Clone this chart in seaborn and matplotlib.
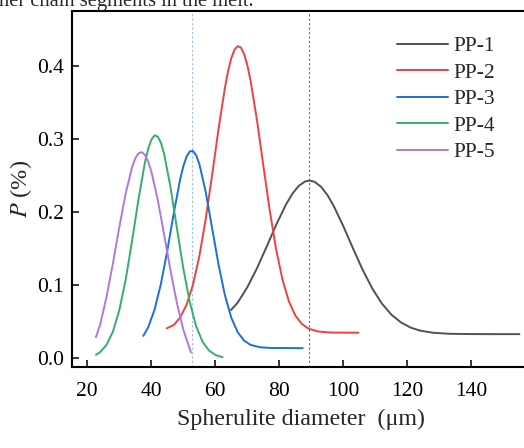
import numpy as np
import pandas as pd
import seaborn as sns
import matplotlib
matplotlib.use("Agg")
import matplotlib.pyplot as plt

# values (x in um, P in %)
pp1_x = [64.9, 67, 70, 73, 76, 79, 82, 84, 86, 88, 89.4, 91, 93, 95, 97, 100, 103, 106, 109,
         112, 115, 118, 121, 124, 128, 133, 140, 148, 155]
pp1_y = [0.066, 0.0762, 0.0972, 0.1230, 0.1523, 0.1824, 0.2097, 0.2246, 0.2355, 0.2417, 0.243,
         0.2413, 0.2346, 0.2233, 0.2081, 0.1804, 0.1503, 0.1212, 0.0956, 0.0750, 0.0596, 0.0490,
         0.0420, 0.0378, 0.0349, 0.0335, 0.0331, 0.0330, 0.0330]

pp2_x = [44.8, 47, 49, 51, 53, 55, 57, 59, 61, 63, 64, 65, 66, 67, 68, 69, 70, 71, 73, 75, 77,
         79, 81, 83, 85, 87, 89, 92, 96, 100, 104.7]
pp2_y = [0.041, 0.0454, 0.0557, 0.0730, 0.1003, 0.1394, 0.1905, 0.2506, 0.3136, 0.3701, 0.3929,
         0.4105, 0.4220, 0.4268, 0.4248, 0.4159, 0.4006, 0.3798, 0.3257, 0.2633, 0.2020, 0.1487,
         0.1071, 0.0776, 0.0584, 0.0470, 0.0407, 0.0367, 0.0352, 0.0350, 0.0350]

pp3_x = [37.5, 39, 41, 43, 45, 47, 49, 50, 51, 52, 53, 54, 55, 57, 59, 61, 63, 65, 67, 69, 71,
         74, 78, 83, 87.3]
pp3_y = [0.0307, 0.0422, 0.0662, 0.1017, 0.1474, 0.1981, 0.2445, 0.2626, 0.2757, 0.2828, 0.2835,
         0.2776, 0.2657, 0.2272, 0.1778, 0.1281, 0.0861, 0.0553, 0.0355, 0.0241, 0.0183, 0.0150,
         0.0140, 0.0140, 0.0138]

pp4_x = [22.7, 24, 26, 28, 30, 32, 34, 36, 38, 39, 40, 41, 42, 43, 44, 46, 48, 50, 52, 54, 56,
         58, 60, 62.3]
pp4_y = [0.0048, 0.0084, 0.0183, 0.0364, 0.0657, 0.1078, 0.1607, 0.2176, 0.2676, 0.2862, 0.2989,
         0.3047, 0.3032, 0.2946, 0.2794, 0.2339, 0.1778, 0.1228, 0.0770, 0.0439, 0.0227, 0.0107,
         0.0046, 0.0015]

pp5_x = [22.7, 24, 26, 28, 30, 32, 34, 35, 36, 37, 38, 39, 40, 42, 44, 46, 48, 50, 52.4]
pp5_y = [0.029, 0.0456, 0.0837, 0.1296, 0.1791, 0.2256, 0.2615, 0.2734, 0.2803, 0.2819, 0.2781,
         0.2692, 0.2555, 0.2169, 0.1692, 0.1200, 0.0753, 0.0390, 0.0079]

labels = ["PP-1", "PP-2", "PP-3", "PP-4", "PP-5"]
colors = ["#515151", "#F14040", "#1A6FDF", "#37AD6B", "#B177DE"]
peak_lines = [52.6, 89.4]

frames = []
for lab, xs, ys in zip(labels, [pp1_x, pp2_x, pp3_x, pp4_x, pp5_x],
                       [pp1_y, pp2_y, pp3_y, pp4_y, pp5_y]):
    frames.append(pd.DataFrame({"d": xs, "P": ys, "sample": lab}))
df = pd.concat(frames, ignore_index=True)

sns.set_style("ticks")
plt.rcParams["font.family"] = ["Liberation Serif", "DejaVu Serif"]
plt.rcParams["mathtext.fontset"] = "stix"

fig = plt.figure(figsize=(5.24, 4.48), dpi=100)
ax = fig.add_axes([72 / 524, 81.3 / 448, (530 - 72) / 524, (437 - 81.3) / 448])

ax.axvline(peak_lines[0], color="#9DBFEF", ls=(0, (2, 2)), lw=0.8, zorder=1)
ax.axvline(peak_lines[1], color="#707070", ls=(0, (2, 2)), lw=0.8, zorder=1)

sns.lineplot(data=df, x="d", y="P", hue="sample", palette=dict(zip(labels, colors)),
             estimator=None, sort=True, lw=1.4, ax=ax,
             solid_joinstyle="round", solid_capstyle="round")

ax.set_xlim(15.22, 158.3)
ax.set_ylim(-0.0115, 0.4748)
ax.set_xticks([20, 40, 60, 80, 100, 120, 140])
ax.set_yticks([0.0, 0.1, 0.2, 0.3, 0.4])
ax.set_yticklabels(["0.0", "0.1", "0.2", "0.3", "0.4"])
ax.tick_params(direction="in", length=5, width=1.1, labelsize=15.5, colors="black")
ax.tick_params(axis="x", pad=11)
ax.tick_params(axis="y", pad=6)
for s in ["left", "bottom", "top"]:
    ax.spines[s].set_linewidth(1.5)
    ax.spines[s].set_color("black")
ax.spines["right"].set_visible(False)

ax.set_xlabel("Spherulite diameter  (\u03bcm)", fontsize=17.3, labelpad=6)
ax.set_ylabel("$P$ (%)", fontsize=17.5, labelpad=2)

handles, _ = ax.get_legend_handles_labels()
ax.legend(handles, labels, loc="upper left", bbox_to_anchor=(397 / 524, 1 - 36 / 448),
          bbox_transform=fig.transFigure, frameon=False, fontsize=15.5,
          handlelength=2.37, handletextpad=0.25, labelspacing=0.3,
          borderpad=0, borderaxespad=0)

# bottom of the running text line above the figure (cut off in the source too)
fig.text(-0.002, 1 - 6 / 448, "ner chain segments in the melt.", fontsize=14.8,
         va="baseline", ha="left")

fig.savefig("out.png", dpi=100)
